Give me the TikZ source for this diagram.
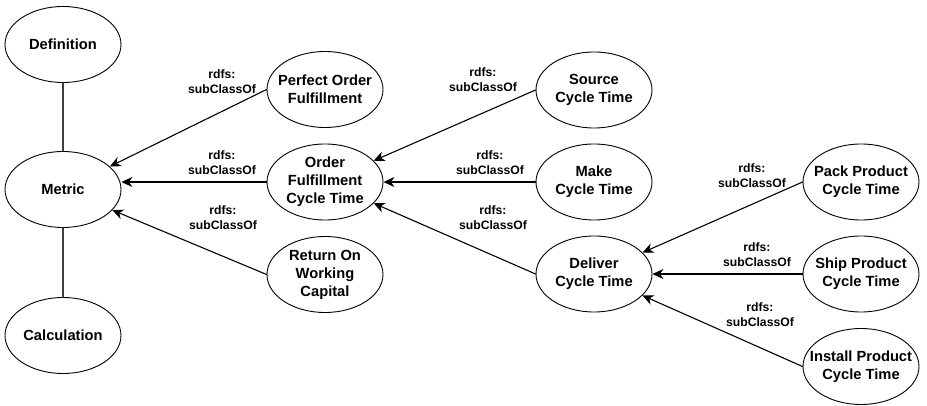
\documentclass[tikz,border=0pt]{standalone}
\usepackage{fontspec}
\setmainfont{Liberation Sans}
\usetikzlibrary{shapes.geometric,arrows.meta}

\tikzset{
  concept/.style={ellipse, draw, line width=0.9pt, minimum width=116pt, minimum height=76pt,
    inner xsep=-16pt, inner ysep=-8pt, align=center,
    font=\fontsize{14.7}{18}\selectfont\bfseries},
  rel/.style={align=center, inner sep=0pt, font=\fontsize{12.2}{15}\selectfont\bfseries},
  isa/.style={-{Stealth[length=11pt,width=10pt,inset=3.5pt]}, line width=1.1pt},
  part/.style={line width=1.3pt, black!75},
}

\begin{document}
\begin{tikzpicture}[x=1pt,y=-1pt,line cap=round,line join=round]
\useasboundingbox (0,0) rectangle (927,406);
% metric with definition and calculation
\node[concept] (def) at (63,44.5) {Definition};
\node[concept] (metric) at (63,189.5) {Metric};
\node[concept] (calc) at (63,335.5) {Calculation};
\draw[part] (def) -- (metric);
\draw[part] (metric) -- (calc);
% first level
\node[concept] (pof) at (325,89.5) {Perfect Order\\Fulfillment};
\node[concept] (ofct) at (325,182) {Order\\Fulfillment\\Cycle Time};
\node[concept] (rowc) at (325,274.5) {Return On\\Working\\Capital};
% second level
\node[concept] (sct) at (594,90) {Source\\Cycle Time};
\node[concept] (mct) at (594,182) {Make\\Cycle Time};
\node[concept] (dct) at (594,274) {Deliver\\Cycle Time};
% third level
\node[concept] (pack) at (861,182) {Pack Product\\Cycle Time};
\node[concept] (ship) at (861,274) {Ship Product\\Cycle Time};
\node[concept] (inst) at (861,366.5) {Install Product\\Cycle Time};
% subclass edges
\draw[isa] (pof.west) -- (metric);
\draw[isa] (ofct.west) -- (ofct.west -| metric.east);
\draw[isa] (rowc.west) -- (metric);
\draw[isa] (sct.west) -- (ofct);
\draw[isa] (mct.west) -- (ofct.east);
\draw[isa] (dct.west) -- (ofct);
\draw[isa] (pack.west) -- (dct);
\draw[isa] (ship.west) -- (dct.east);
\draw[isa] (inst.west) -- (dct);
% edge labels
\node[rel] (l1) at (222,82) {rdfs:\\subClassOf};
\node[rel] (l2) at (222,163) {rdfs:\\subClassOf};
\node[rel] (l3) at (223,218) {rdfs:\\subClassOf};
\node[rel] (l4) at (483,80) {rdfs:\\subClassOf};
\node[rel] (l5) at (490,163) {rdfs:\\subClassOf};
\node[rel] (l6) at (493,218) {rdfs:\\subClassOf};
\node[rel] (l7) at (752,176) {rdfs:\\subClassOf};
\node[rel] (l8) at (757,255) {rdfs:\\subClassOf};
\node[rel] (l9) at (760,315) {rdfs:\\subClassOf};
\end{tikzpicture}
\end{document}
